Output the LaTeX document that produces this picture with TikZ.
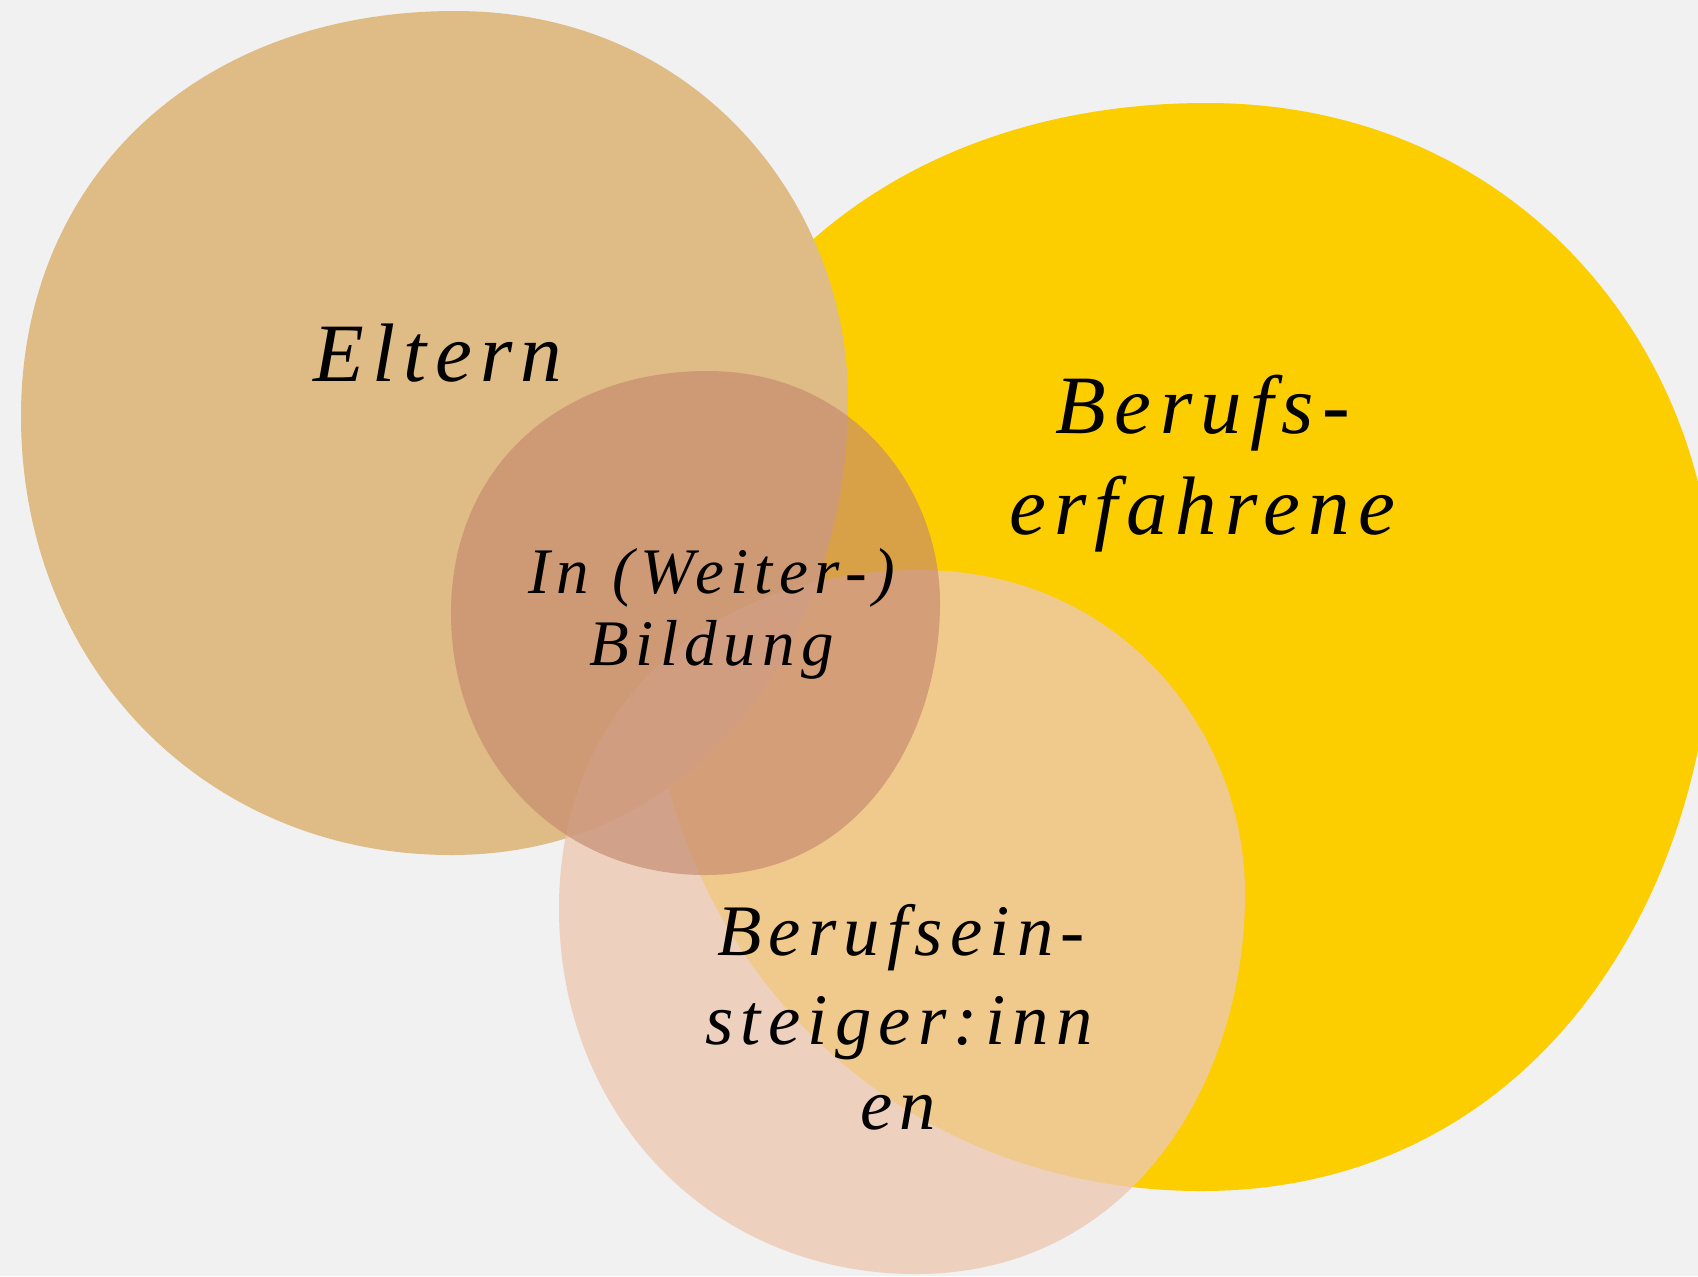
\documentclass[tikz,border=0pt]{standalone}
\usepackage{fontspec}
\newfontfamily\labfont[LetterSpace=10]{Liberation Serif}
\definecolor{bgc}{HTML}{F1F1F1}
\definecolor{elt}{HTML}{DFBB85}
\definecolor{yel}{HTML}{FCCE00}
\definecolor{mid}{HTML}{C5896E}
\definecolor{pnk}{HTML}{EDC8B0}
\newcommand\fBig{\labfont\itshape\fontsize{41.5}{50}\selectfont}
\newcommand\fMed{\labfont\itshape\fontsize{36.3}{44}\selectfont}
\newcommand\fSmall{\labfont\itshape\fontsize{32.5}{40}\selectfont}
% one blob outline, in a box of -1000..1000 on both axes (y up)
\newcommand\drawblob[1]{\path[#1] (50,1000)
  .. controls (-570,1000) and (-1000,606) .. (-1000,40)
  .. controls (-1000,-553) and (-553,-1000) .. (40,-1000)
  .. controls (664,-1000) and (1000,-460) .. (1000,80)
  .. controls (1000,540) and (639,1000) .. (50,1000) -- cycle;}
\begin{document}
\begin{tikzpicture}[x=0.5pt,y=-0.5pt,
  lab/.style={anchor=base, inner sep=0pt, text=black}]
\useasboundingbox (0,0) rectangle (1698,1276);
\clip (0,0) rectangle (1698,1276);
\fill[bgc] (0,0) rectangle (1698,1276);
% Berufserfahrene (yellow)
\begin{scope}[shift={(1180,647)}, xscale=0.533, yscale=-0.544]
  \drawblob{fill=yel}
\end{scope}
% Eltern
\begin{scope}[shift={(434.5,433)}, xscale=0.4135, yscale=-0.422]
  \drawblob{fill=elt}
\end{scope}
% Berufseinsteiger:innen
\begin{scope}[shift={(902,922)}, xscale=0.343, yscale=-0.352]
  \drawblob{fill=pnk, fill opacity=0.8}
\end{scope}
% In (Weiter-) Bildung
\begin{scope}[shift={(695.5,623)}, xscale=0.2445, yscale=-0.252]
  \drawblob{fill=mid, fill opacity=0.65}
\end{scope}
% labels
\node[lab, font=\fBig] (eltern) at (438,381) {Eltern};
\node[lab, font=\fBig] (bf1) at (1203,433) {Berufs-};
\node[lab, font=\fBig] (bf2) at (1202,534) {erfahrene};
\node[lab, font=\fSmall] (wb1) at (712,593) {In (Weiter-)};
\node[lab, font=\fSmall] (wb2) at (712,665) {Bildung};
\node[lab, font=\fMed] (be1) at (901,955) {Berufsein-};
\node[lab, font=\fMed] (be2) at (899,1044) {steiger:inn};
\node[lab, font=\fMed] (be3) at (898,1129) {en};
\end{tikzpicture}
\end{document}
